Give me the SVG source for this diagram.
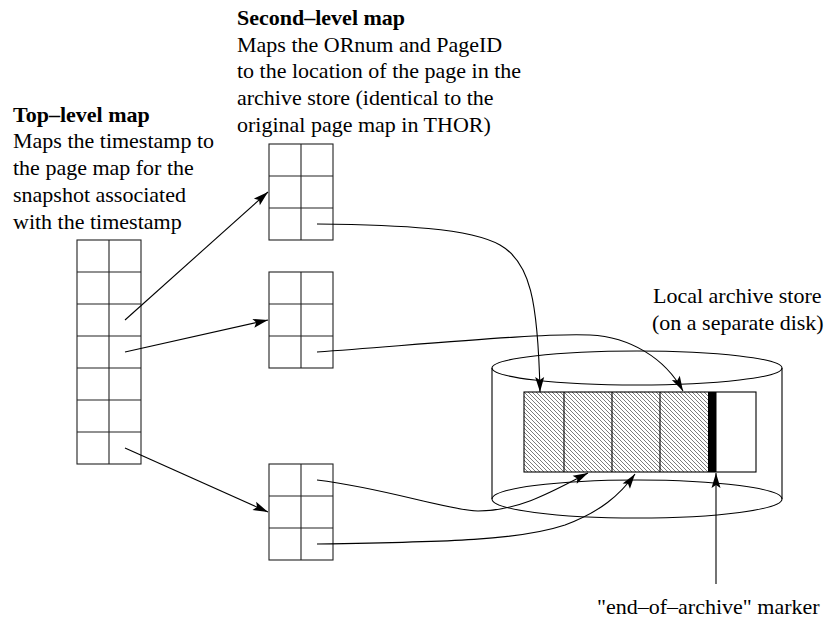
<svg xmlns="http://www.w3.org/2000/svg" width="829" height="621" viewBox="0 0 829 621">
<style>
  .t { font-size: 22px; fill: #000; }
  .b { font-weight: bold; }
  .grid { fill: none; stroke: #222; stroke-width: 1.1; }
  .con { fill: none; stroke: #000; stroke-width: 1.1; marker-end: url(#ah); }
  .cyl { fill: none; stroke: #000; stroke-width: 1.1; }
</style>
<defs>
  <marker id="ah" viewBox="-16 -6 17 12" refX="0" refY="0" markerWidth="17" markerHeight="12" markerUnits="userSpaceOnUse" orient="auto">
    <path d="M0,0 L-15,-4.5 L-12,0 L-15,4.5 Z" fill="#000"/>
  </marker>
  <pattern id="hatch" width="4" height="4" patternUnits="userSpaceOnUse">
    <path d="M0,0 L4,4 M-1,3 L1,5 M3,-1 L5,1" stroke="#444" stroke-width="0.7"/>
  </pattern>
</defs>

<g id="label-top" font-family="'Liberation Serif', 'Times New Roman', serif">
  <text class="t b" x="13" y="121.7">Top–level map</text>
  <text class="t" x="13" y="148.4">Maps the timestamp to</text>
  <text class="t" x="13" y="175.1">the page map for the</text>
  <text class="t" x="13" y="201.8">snapshot associated</text>
  <text class="t" x="13" y="228.5">with the timestamp</text>
</g>

<g id="label-second" font-family="'Liberation Serif', 'Times New Roman', serif">
  <text class="t b" x="237" y="25">Second–level map</text>
  <text class="t" x="237" y="51.7">Maps the ORnum and PageID</text>
  <text class="t" x="237" y="78.4">to the location of the page in the</text>
  <text class="t" x="237" y="105.1">archive store (identical to the</text>
  <text class="t" x="237" y="131.8">original page map in THOR)</text>
</g>

<g id="label-store" font-family="'Liberation Serif', 'Times New Roman', serif">
  <text class="t" x="653" y="303">Local archive store</text>
  <text class="t" x="652" y="329.7">(on a separate disk)</text>
</g>

<g id="label-marker" font-family="'Liberation Serif', 'Times New Roman', serif">
  <text class="t" x="597" y="614">"end–of–archive" marker</text>
</g>

<g id="top-map">
  <rect class="grid" x="77" y="240" width="64" height="224"/>
  <path class="grid" d="M109,240 V464 M77,272 H141 M77,304 H141 M77,336 H141 M77,368 H141 M77,400 H141 M77,432 H141"/>
</g>

<g id="second-map-1">
  <rect class="grid" x="269" y="144" width="64" height="96"/>
  <path class="grid" d="M301,144 V240 M269,176 H333 M269,208 H333"/>
</g>

<g id="second-map-2">
  <rect class="grid" x="269" y="272" width="64" height="96"/>
  <path class="grid" d="M301,272 V368 M269,304 H333 M269,336 H333"/>
</g>

<g id="second-map-3">
  <rect class="grid" x="269" y="464" width="64" height="96"/>
  <path class="grid" d="M301,464 V560 M269,496 H333 M269,528 H333"/>
</g>

<g id="archive-store">
  <ellipse class="cyl" cx="637" cy="368" rx="145" ry="17"/>
  <ellipse class="cyl" cx="637" cy="499" rx="145" ry="19"/>
  <path class="cyl" d="M492,368 V499 M782,368 V499"/>
  <rect x="524" y="392" width="184" height="80" fill="url(#hatch)"/>
  <rect x="708" y="392" width="8.5" height="80" fill="#000"/>
  <rect x="524" y="392" width="232" height="80" fill="none" stroke="#000" stroke-width="1.1"/>
  <path d="M564,392 V472 M612,392 V472 M660,392 V472" stroke="#000" stroke-width="1.1"/>
</g>

<g id="connectors">
  <path class="con" d="M125,320 L268,192"/>
  <path class="con" d="M125,352 L268,320"/>
  <path class="con" d="M125,448 L268,512"/>
  <path class="con" d="M317,224 C400,225 470,228 500,245 C530,262 538,300 540,392"/>
  <path class="con" d="M317,352 C450,342 545,333 590,335 C630,337 665,358 683,391"/>
  <path class="con" d="M317,480 C390,489 445,510 478,511 C520,511 555,490 588,473"/>
  <path class="con" d="M317,544 C450,542 520,540 565,525 C600,512 620,495 635,474"/>
  <path class="con" d="M716,584 L716,473"/>
</g>
</svg>
